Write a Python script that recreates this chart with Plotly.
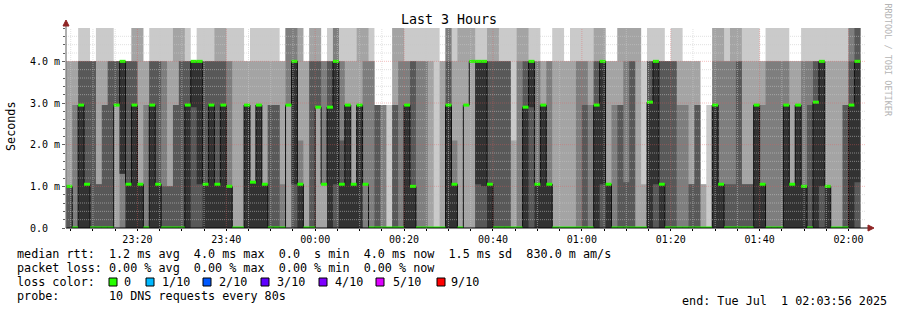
import plotly.graph_objects as go
from datetime import datetime, timedelta

# ---------------- data (ms) : 10 sorted pings per 80 s step ----------------
ping1 = [0, 0, 0, 0, 0, 0, 0, 0, 0, 0, 0, 0, 0, 0, 0, 0, 0, 0, 0, 0,
         0, 0, 0, 0, 0, 0, 0, 0, 0, 0, 0, 0, 0, 0, 0, 0, 0, 0, 0, 0,
         0, 0, 0, 0, 0, 0, 0, 0, 0, 0, 0, 0, 0, 0, 0, 0, 0, 0, 0, 0,
         0, 0, 0, 0, 0, 0, 0, 0, 0, 0, 0, 0, 0, 0, 0, 0, 0, 0, 0, 0,
         0, 0, 0, 0, 0, 0, 0, 0, 0, 0, 0, 0, 0, 0, 0, 0, 0, 0, 0, 0,
         0, 0, 0, 0, 0, 0, 0, 0, 0, 0, 0, 0, 0, 0, 0, 0, 0, 0, 0, 0,
         0, 0, 0, 0, 0, 0, 0, 0, 0, 0, 0, 0, 0, 0]
ping2 = [0, 0, 0, 0, 0, 0, 0, 0, 0, 0, 0, 0, 0, 0, 0, 0, 0, 0, 0, 0,
         0, 0, 0, 0, 0, 0, 0, 0, 0, 0, 0, 0, 0, 0, 0, 0, 0, 0, 0, 0,
         0, 0, 0, 0, 0, 0, 0, 0, 0, 0, 0, 0, 0, 0, 0, 0, 0, 0, 0, 0,
         0, 0, 0, 0, 0, 0, 0, 0, 0, 0, 0, 0, 0, 0, 0, 0, 0, 0, 0, 0,
         0, 0, 0, 0, 0, 0, 0, 0, 0, 0, 0, 0, 0, 0, 0, 0, 0, 0, 0, 0,
         0, 0, 0, 0, 0, 0, 0, 0, 0, 0, 0, 0, 0, 0, 0, 0, 0, 0, 0, 0,
         0, 0, 0, 0, 0, 0, 0, 0, 0, 0, 0, 0, 0, 0]
ping3 = [0, 0, 0, 0, 0, 0, 0, 0, 2.95, 0, 0, 0, 0, 0, 0, 0, 0, 0, 0, 0,
         0, 0, 0, 0, 0, 0, 0, 0, 0, 0, 0, 0, 0, 0, 0, 0, 0, 2.95, 0, 0,
         0, 0, 2.9, 1.05, 0, 0, 0, 0, 0, 0, 0, 0, 0, 0, 0, 0, 0, 0, 0, 0,
         0, 0, 0, 0, 0, 0, 0, 2.95, 4, 0, 0, 0, 0, 0, 0, 0, 0, 0, 0, 0,
         0, 0, 0, 0, 0, 0, 0, 0, 0, 0, 0, 0, 0, 0, 0, 0, 0, 0, 0, 0,
         0, 0, 0, 0, 0, 0, 0, 0, 0, 0, 0, 0, 0, 0, 0, 0, 0, 0, 0, 0,
         0, 0, 0, 0, 0, 0, 0, 0, 0, 0, 0, 0, 0, 0]
ping4 = [0, 0, 0, 0, 0, 0, 0, 0, 2.95, 1.3, 0, 0, 0, 0, 0, 0, 0, 0, 0, 0,
         0, 0, 0, 0, 0, 0, 0, 0, 0, 0, 0, 0, 0, 0, 0, 0, 0, 2.95, 0, 0,
         0, 0, 2.9, 1.05, 0, 0, 0, 0, 0, 0, 1.05, 0, 0, 0, 0, 0, 0, 0, 0, 0,
         0, 0, 0, 0, 0, 0, 0, 2.95, 4, 0, 0, 0, 0, 0, 0, 0, 0, 0, 0, 0,
         0, 0, 0, 0, 0, 0, 0, 0, 0, 0, 0, 0, 0, 0, 0, 0, 0, 0, 0, 0,
         0, 0, 0, 0, 0, 0, 0, 0, 0, 0, 0, 0, 0, 0, 0, 0, 0, 0, 0, 0,
         0, 0, 0, 0, 0, 0, 0, 0, 0, 0, 0, 0, 0, 0]
ping5 = [1, 0, 0, 0, 0, 0, 0, 0, 2.95, 1.3, 0, 0, 0, 0, 0, 0, 0, 0, 0, 0,
         0, 2.9, 1.05, 0, 0, 0, 0, 0, 0, 0, 0, 0, 0, 0, 0, 0, 0, 2.95, 1.05, 0,
         0, 0, 2.9, 1.05, 0, 1.05, 0, 0, 0, 0, 1.05, 0, 0, 0, 0, 0, 0, 0, 0, 0,
         0, 0, 0, 0, 0, 0, 0, 2.95, 4, 1.05, 1, 0, 0, 0, 0, 0, 0, 0, 2.9, 0,
         0, 0, 0, 0, 0, 0, 0, 0, 0, 0, 1.05, 0, 0, 0, 0, 0, 0, 0, 0, 1.05,
         0, 0, 0, 0, 0, 0, 0, 0, 0, 0, 0, 0, 0, 0, 0, 0, 0, 0, 0, 0,
         0, 0, 0, 0, 0, 0, 0, 1, 0, 0, 0, 0, 0, 1.1]
ping6 = [1, 0, 2.95, 1.05, 0, 0, 0, 0, 2.95, 4, 1.05, 2.95, 1.05, 0, 2.95, 1.05, 0, 0, 0, 0,
         2.95, 4, 4, 1.05, 2.95, 1.05, 2.95, 1, 0, 0, 2.95, 1.1, 2.95, 1.05, 0, 0, 0, 2.95, 4, 1.05,
         0, 0, 2.9, 1.05, 2.9, 4, 1.05, 2.95, 1.05, 2.95, 1.05, 0, 0, 0, 0, 0, 0, 2.95, 1, 0,
         0, 0, 0, 0, 2.95, 1.05, 0, 2.95, 4, 4, 4, 1.05, 0, 0, 0, 0, 0, 2.9, 4, 1.05,
         2.95, 1.05, 0, 0, 0, 0, 0, 0, 0, 2.95, 4, 1.05, 0, 0, 0, 0, 0, 0, 3.02, 4,
         1.05, 0, 0, 0, 0, 0, 0, 0, 0, 2.95, 1.05, 0, 0, 0, 0, 0, 2.95, 1.05, 0, 0,
         0, 2.95, 1.05, 2.95, 1, 0, 3.02, 4, 1, 0, 0, 0, 2.95, 4]
ping7 = [1, 0, 4, 4, 4, 1.05, 2.95, 4, 4, 4, 4, 4, 1.05, 0, 4, 4, 1, 1, 2.95, 4,
         4, 4, 4, 4, 4, 4, 4, 1, 0, 0, 2.95, 1.1, 2.95, 1.05, 2.95, 2.95, 0, 2.95, 4, 1.05,
         0, 4, 4, 1.05, 4, 4, 2.1, 2.95, 1.05, 2.95, 1.05, 0, 2.95, 0, 0, 2.95, 0, 2.95, 4, 0,
         0, 0, 0, 0, 4, 1.05, 0, 2.95, 4, 4, 4, 4, 4, 4, 4, 0, 0, 4, 4, 1.05,
         2.95, 1.05, 0, 0, 0, 0, 0, 2.95, 0, 4, 4, 1.05, 0, 2.95, 1.1, 4, 0, 0, 4, 4,
         4, 4, 4, 0, 0, 1.05, 2.95, 0, 0, 2.95, 1.05, 1.05, 1.05, 4, 1.05, 1.05, 2.95, 1.05, 0, 0,
         0, 2.95, 1.05, 2.95, 1, 2.95, 4, 4, 1, 0, 0, 2.95, 4, 5]
ping8 = [1, 2.95, 4, 4, 4, 1.05, 2.95, 4, 4, 4, 4, 4, 1.05, 2.95, 4, 4, 4, 1, 2.95, 4,
         4, 4, 4, 4, 4, 4, 4, 4, 0, 0, 2.95, 1.1, 2.95, 1.05, 2.95, 2.95, 1.05, 5, 5, 2.1,
         0, 4, 4, 4, 4, 5, 4, 2.95, 1.05, 2.95, 4, 4, 2.95, 2.95, 0, 2.95, 4, 4, 4, 4,
         4, 0, 0, 0, 5, 2.1, 0, 2.95, 4, 4, 4, 4, 4, 4, 4, 0, 4, 4, 4, 4,
         2.95, 4, 0, 0, 0, 0, 4, 4, 2.95, 4, 4, 1.05, 2.95, 2.95, 4, 4, 0, 0, 4, 4,
         4, 4, 4, 2.95, 2.95, 1.05, 2.95, 0, 0, 4, 4, 4, 4, 4, 1.05, 1.05, 2.95, 2.95, 4, 4,
         4, 4, 1.05, 2.95, 4, 4, 4, 4, 1, 0, 0, 2.95, 5, 5]
ping9 = [4, 4, 4, 4, 4, 4, 4, 4, 4, 4, 4, 5, 5, 4, 4, 4, 4, 4, 5, 5,
         4, 4, 4, 4, 4, 5, 5, 4, 4, 4, 4, 4, 4, 4, 4, 4, 4, 5, 5, 5,
         4, 5, 5, 4, 4, 5, 4, 4, 4, 5, 5, 4, 2.95, 2.95, 0, 5, 5, 4, 4, 4,
         4, 4, 0, 4, 5, 4, 5, 5, 5, 4, 4, 5, 5, 4, 4, 2.1, 5, 5, 4, 4,
         4, 4, 4, 4, 4, 4, 4, 4, 4, 5, 5, 4, 4, 5, 5, 5, 5, 1.05, 4, 4,
         4, 4, 4, 4, 4, 4, 4, 1.05, 0, 5, 5, 4, 5, 5, 4, 4, 4, 4, 4, 4,
         4, 4, 4, 4, 4, 4, 4, 4, 4, 4, 4, 4, 5, 5]
ping10 = [4, 4, 5, 5, 4, 5, 5, 5, 4, 4, 4, 5, 5, 4, 5, 5, 5, 5, 5, 5,
          5, 4, 5, 5, 5, 5, 5, 5, 5, 5, 4, 5, 5, 5, 5, 5, 4, 5, 5, 5,
          4, 5, 5, 4, 5, 5, 5, 5, 5, 5, 5, 5, 2.95, 2.95, 2.95, 5, 5, 5, 5, 5,
          5, 5, 5, 4, 5, 5, 5, 5, 5, 5, 5, 5, 5, 5, 5, 5, 5, 5, 5, 5,
          4, 4, 5, 5, 4, 5, 5, 5, 5, 5, 5, 4, 4, 5, 5, 5, 5, 4, 5, 5,
          5, 4, 5, 5, 4, 4, 4, 1.05, 2.95, 5, 5, 5, 5, 5, 5, 5, 5, 4, 5, 5,
          5, 5, 4, 4, 5, 5, 5, 5, 5, 5, 5, 5, 5, 5]
# median rtt (green loss-colored ticks)
median_rtt = ping6

y_ticks = [0, 1, 2, 3, 4]
y_tick_labels = ["0.0\u00a0\u00a0", "1.0\u00a0m", "2.0\u00a0m", "3.0\u00a0m", "4.0\u00a0m"]

stats_rtt = "median rtt:  1.2 ms avg  4.0 ms max  0.0  s min  4.0 ms now  1.5 ms sd  830.0 m am/s"
stats_loss = "packet loss: 0.00 % avg  0.00 % max  0.00 % min  0.00 % now"
loss_labels = ["0", "1/10", "2/10", "3/10", "4/10", "5/10", "9/10"]
loss_colors = ["#26ff00", "#00b8ff", "#0059ff", "#5e00ff", "#7e00ff", "#dd00ff", "#ff0000"]
probe_text = "probe:       10 DNS requests every 80s"
end_text = "end: Tue Jul  1 02:03:56 2025"

# ---------------- geometry helpers ----------------
W, H = 897, 310
PL, PR, PT, PB = 66, 866, 28, 228
def px(x):
    return (x - PL) / (PR - PL)
def py(y):
    return (PB - y) / (PB - PT)
def nb(s):
    return s.replace(" ", "\u00a0")

MONO = "DejaVu Sans Mono"

step_start = datetime(2025, 6, 30, 23, 4, 0)
step = timedelta(seconds=80)
n = len(median_rtt)
edges = [step_start + step * i for i in range(n + 1)]
x_start = datetime(2025, 6, 30, 23, 3, 56)
x_end = datetime(2025, 7, 1, 2, 3, 56)

fig = go.Figure()

pings = [ping1, ping2, ping3, ping4, ping5, ping6, ping7, ping8, ping9, ping10]
band_colors = ["#cacaca", "#a4a4a4", "#7e7e7e", "#585858", "#323232"]
for b in range(5):
    lo = pings[b]
    hi = pings[9 - b]
    fig.add_trace(go.Scatter(x=edges, y=lo + [lo[-1]], mode="lines",
                             line=dict(width=0, shape="hv"),
                             hoverinfo="skip", showlegend=False))
    fig.add_trace(go.Scatter(x=edges, y=hi + [hi[-1]], mode="lines",
                             line=dict(width=0, shape="hv"),
                             fill="tonexty", fillcolor=band_colors[b],
                             hoverinfo="skip", showlegend=False))

# median connecting line
fig.add_trace(go.Scatter(x=edges, y=median_rtt + [median_rtt[-1]], mode="lines",
                         line=dict(width=1, shape="hv", color="#101010"),
                         hoverinfo="skip", showlegend=False))
# green median ticks
gx, gy = [], []
for i, m in enumerate(median_rtt):
    gx += [edges[i], edges[i + 1], None]
    gy += [m, m, None]
fig.add_trace(go.Scatter(x=gx, y=gy, mode="lines",
                         line=dict(width=3, color="#26ff00"),
                         hoverinfo="skip", showlegend=False))

shapes = []
MINOR = "rgba(200,200,200,0.55)"
MAJOR = "rgba(230,90,90,0.38)"
# grid on top of data (rrdtool style)
for i in range(1, 24):
    v = i * 0.2
    if abs(v - round(v)) < 1e-6:
        continue
    shapes.append(dict(type="line", xref="paper", yref="y", x0=0, x1=1, y0=v, y1=v,
                       line=dict(color=MINOR, width=1, dash="1px,1px"),
                       layer="above"))
for v in [1, 2, 3, 4]:
    shapes.append(dict(type="line", xref="paper", yref="y", x0=0, x1=1, y0=v, y1=v,
                       line=dict(color=MAJOR, width=1, dash="1px,1px"),
                       layer="above"))
t = datetime(2025, 6, 30, 23, 5, 0)
while t < x_end:
    major = (t.minute % 20 == 0)
    shapes.append(dict(type="line", xref="x", yref="paper", x0=t, x1=t, y0=0, y1=1,
                       line=dict(color=MAJOR if major else MINOR, width=1, dash="1px,1px"),
                       layer="above"))
    t += timedelta(minutes=5)

# axis extension + arrows
arrow_col = "#8f2424"
shapes.append(dict(type="line", xref="paper", yref="paper", x0=px(66), x1=px(869), y0=py(228), y1=py(228),
                   line=dict(color="#000000", width=1), layer="above"))
shapes.append(dict(type="line", xref="paper", yref="paper", x0=px(66), x1=px(66), y0=py(228), y1=py(24),
                   line=dict(color="#606060", width=1), layer="above"))
shapes.append(dict(type="path", xref="paper", yref="paper",
                   path=f"M {px(66)},{py(20)} L {px(63)},{py(26)} L {px(69)},{py(26)} Z",
                   fillcolor=arrow_col, line=dict(color=arrow_col, width=1), layer="above"))
shapes.append(dict(type="path", xref="paper", yref="paper",
                   path=f"M {px(874)},{py(228)} L {px(868)},{py(225)} L {px(868)},{py(231)} Z",
                   fillcolor=arrow_col, line=dict(color=arrow_col, width=1), layer="above"))

# loss color legend squares
sq_x = [109, 146, 203, 261, 319, 376, 437]
lab_x = [123, 160.5, 218, 276, 334, 392, 450]
ann = []
for sx, lx, c, lab in zip(sq_x, lab_x, loss_colors, loss_labels):
    shapes.append(dict(type="rect", xref="paper", yref="paper",
                       x0=px(sx), x1=px(sx + 8), y0=py(278), y1=py(286),
                       fillcolor=c, line=dict(color="#000000", width=1)))
    ann.append(dict(x=px(lx), y=py(282), xref="paper", yref="paper", text=nb(lab),
                    showarrow=False, xanchor="left", yanchor="middle", borderpad=0,
                    font=dict(family=MONO, size=11.75, color="#000000")))

def txt(x, y, s, anchor="left", size=11.75, color="#000000", angle=0):
    ann.append(dict(x=px(x), y=py(y), xref="paper", yref="paper", text=nb(s),
                    showarrow=False, xanchor=anchor, yanchor="middle", borderpad=0,
                    textangle=angle, font=dict(family=MONO, size=size, color=color)))

txt(448.5, 20, "Last 3 Hours", anchor="center", size=13.3)
txt(11, 126, "Seconds", anchor="center", angle=-90)
txt(887.5, 60, "RRDTOOL / TOBI OETIKER", anchor="center", size=8.5, color="#b4b4b4", angle=90)
txt(16, 254, stats_rtt)
txt(16, 268, stats_loss)
txt(16, 282, "loss color:")
txt(16, 295.5, probe_text)
txt(888, 301, end_text, anchor="right")

fig.update_layout(
    width=W, height=H,
    margin=dict(l=PL, r=W - PR, t=PT, b=H - PB, pad=0, autoexpand=False),
    paper_bgcolor="#ffffff", plot_bgcolor="#ffffff",
    showlegend=False,
    shapes=shapes, annotations=ann,
    xaxis=dict(type="date", range=[x_start, x_end], tick0="2025-06-30 23:20:00", dtick=1200000,
               tickformat="%H:%M", showgrid=False, zeroline=False, showline=False,
               ticks="outside", ticklen=2, tickcolor="#000000",
               tickfont=dict(family=MONO, size=10, color="#000000"),
               minor=dict(dtick=300000, ticks="outside", ticklen=2, tickcolor="#000000", showgrid=False)),
    yaxis=dict(range=[0, 4.8], tickvals=y_ticks, ticktext=y_tick_labels,
               showgrid=False, zeroline=False, showline=False,
               ticks="outside", ticklen=3, tickcolor="#606060",
               tickfont=dict(family=MONO, size=10, color="#000000"),
               minor=dict(dtick=0.2, ticks="outside", ticklen=2, tickcolor="#606060", showgrid=False)),
)

fig.write_html("out.html")
